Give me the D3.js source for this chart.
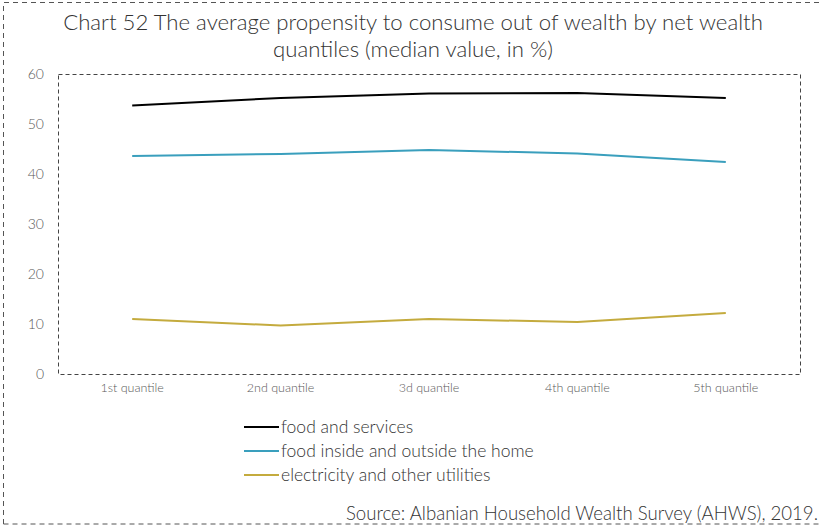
<!DOCTYPE html>
<html>
<head>
<meta charset="utf-8">
<script src="https://cdn.jsdelivr.net/npm/d3@7"></script>
<style>
  html, body { margin: 0; padding: 0; background: #fff; }
  svg { display: block; font-family: "Lato", "Open Sans", sans-serif; }
</style>
</head>
<body>
<svg id="chart" width="822" height="528"></svg>
<script>
// Net wealth quantiles and median propensity to consume (%)
const categories = ["1st quantile", "2nd quantile", "3d quantile", "4th quantile", "5th quantile"];
const foodAndServices = [53.8, 55.3, 56.2, 56.3, 55.3];
const foodInsideOutside = [43.7, 44.1, 44.9, 44.2, 42.5];
const electricityUtilities = [11.1, 9.8, 11.1, 10.5, 12.3];
const seriesNames = ["food and services", "food inside and outside the home", "electricity and other utilities"];
const seriesColors = ["#000000", "#3a9fbd", "#c4ab3e"];
const yTicks = [0, 10, 20, 30, 40, 50, 60];

const series = [foodAndServices, foodInsideOutside, electricityUtilities].map((values, i) => ({
  name: seriesNames[i], color: seriesColors[i], values
}));

const svg = d3.select("#chart");
const W = 822, H = 528;
const plot = { left: 58, right: 800, top: 74.5, bottom: 374.5 };

// Outer dashed frame
svg.append("path")
  .attr("d", `M3.5,${H - 4} L3.5,2.5 L${W + 5},2.5 M3.5,${H - 4} L${W + 5},${H - 4}`)
  .attr("fill", "none").attr("stroke", "#555").attr("stroke-width", 1)
  .attr("stroke-dasharray", "5,4");

// Title
const title = svg.append("text").attr("text-anchor", "middle").attr("fill", "#333")
  .style("font-size", "22.2px").style("font-weight", 300);
title.append("tspan").attr("x", 413).attr("y", 30)
  .text("Chart 52 The average propensity to consume out of wealth by net wealth");
title.append("tspan").attr("x", 413).attr("y", 57)
  .text("quantiles (median value, in %)");

const x = d3.scaleBand().domain(categories).range([plot.left, plot.right]);
const y = d3.scaleLinear().domain([0, 60]).range([plot.bottom, plot.top]);

// Dashed plot frame
svg.append("rect")
  .attr("x", plot.left + 0.5).attr("y", plot.top)
  .attr("width", plot.right - plot.left).attr("height", plot.bottom - plot.top)
  .attr("fill", "none").attr("stroke", "#444").attr("stroke-width", 1)
  .attr("stroke-dasharray", "4,3");

// Y axis
const yAxis = svg.append("g").attr("transform", `translate(${plot.left},0)`)
  .call(d3.axisLeft(y).tickValues(yTicks).tickSize(0).tickPadding(14));
yAxis.select(".domain").remove();
yAxis.selectAll("text").attr("fill", "#595959")
  .style("font-size", "14px").style("font-family", "Lato, sans-serif").style("font-weight", 300);

// X axis
const xAxis = svg.append("g").attr("transform", `translate(0,${plot.bottom})`)
  .call(d3.axisBottom(x).tickSize(0).tickPadding(9));
xAxis.select(".domain").remove();
xAxis.selectAll("text").attr("fill", "#595959")
  .style("font-size", "12.5px").style("font-family", "Lato, sans-serif").style("font-weight", 300);

// Lines
const line = d3.line()
  .x((d, i) => x(categories[i]) + x.bandwidth() / 2)
  .y(d => y(d));
svg.append("g").selectAll("path").data(series).join("path")
  .attr("d", d => line(d.values))
  .attr("fill", "none").attr("stroke", d => d.color).attr("stroke-width", 2);

// Legend
const legend = svg.append("g").selectAll("g").data(series).join("g")
  .attr("transform", (d, i) => `translate(244,${427 + i * 24})`);
legend.append("line").attr("x1", 0).attr("x2", 35).attr("y1", 0).attr("y2", 0)
  .attr("stroke", d => d.color).attr("stroke-width", 2);
legend.append("text").attr("x", 37).attr("y", 6).attr("fill", "#333")
  .style("font-size", "17.5px").style("font-weight", 300)
  .text(d => d.name);

// Source note
svg.append("text").attr("x", 818).attr("y", 520).attr("text-anchor", "end")
  .attr("fill", "#333").style("font-size", "18.6px").style("font-weight", 300)
  .text("Source: Albanian Household Wealth Survey (AHWS), 2019.");
</script>
</body>
</html>
